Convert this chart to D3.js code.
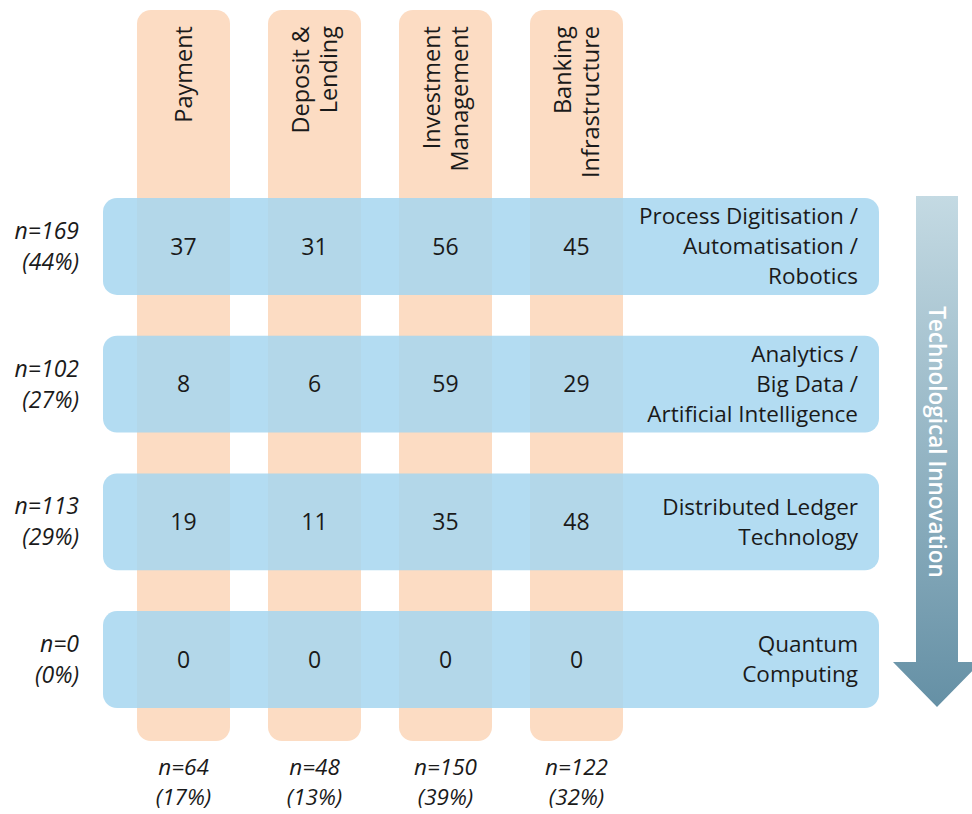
<!DOCTYPE html>
<html>
<head>
<meta charset="utf-8">
<script src="https://cdn.jsdelivr.net/npm/d3@7"></script>
<style>
  body { margin: 0; background: #fff; }
  svg text { font-family: "Open Sans", sans-serif; fill: #1a1a1a; }
</style>
</head>
<body>
<svg width="972" height="814"></svg>
<script>
var svg = d3.select('svg');

// data
var sectors = [['Payment'], ['Deposit &', 'Lending'], ['Investment', 'Management'], ['Banking', 'Infrastructure']];
var sectorKeys = ['Payment', 'Deposit & Lending', 'Investment Management', 'Banking Infrastructure'];
var techs = [['Process Digitisation /', 'Automatisation /', 'Robotics'],
             ['Analytics /', 'Big Data /', 'Artificial Intelligence'],
             ['Distributed Ledger', 'Technology'],
             ['Quantum', 'Computing']];
var techKeys = ['Process', 'Analytics', 'DLT', 'Quantum'];
var counts = [[37, 31, 56, 45],
              [8, 6, 59, 29],
              [19, 11, 35, 48],
              [0, 0, 0, 0]];
var rowTotals = [['n=169', '(44%)'], ['n=102', '(27%)'], ['n=113', '(29%)'], ['n=0', '(0%)']];
var colTotals = [['n=64', '(17%)'], ['n=48', '(13%)'], ['n=150', '(39%)'], ['n=122', '(32%)']];

var x = d3.scaleBand().domain(sectorKeys).range([137, 623]).paddingInner(0.29).paddingOuter(0);
var y = d3.scaleBand().domain(techKeys).range([198, 708]).paddingInner(0.296).paddingOuter(0);

// columns
svg.selectAll('rect.col')
    .data(sectorKeys)
    .enter()
    .append('rect')
    .attr('class', 'col')
    .attr('x', function(d){ return x(d); })
    .attr('y', 10)
    .attr('width', x.bandwidth())
    .attr('height', 731)
    .attr('rx', 14)
    .attr('fill', '#fcdcc3');

// rows
svg.selectAll('rect.row')
    .data(techKeys)
    .enter()
    .append('rect')
    .attr('class', 'row')
    .attr('x', 103)
    .attr('y', function(d){ return y(d); })
    .attr('width', 776)
    .attr('height', y.bandwidth())
    .attr('rx', 14)
    .attr('fill', '#a6d6f0')
    .attr('opacity', 0.85);

// column headers (rotated)
sectors.forEach(function(lines, i){
    var cx = x(sectorKeys[i]) + x.bandwidth() / 2;
    var g = svg.append('g').attr('transform', 'translate(' + cx + ',26) rotate(-90)');
    lines.forEach(function(t, j){
        g.append('text')
            .attr('x', 0)
            .attr('y', (j - (lines.length - 1) / 2) * 28)
            .attr('dy', '0.35em')
            .attr('text-anchor', 'end')
            .attr('font-size', 23.5)
            .text(t);
    });
});

// row labels
techs.forEach(function(lines, i){
    var cy = y(techKeys[i]) + y.bandwidth() / 2;
    lines.forEach(function(t, j){
        svg.append('text')
            .attr('x', 858)
            .attr('y', cy + (j - (lines.length - 1) / 2) * 30)
            .attr('dy', '0.35em')
            .attr('text-anchor', 'end')
            .attr('font-size', 22.5)
            .text(t);
    });
});

// cell values
counts.forEach(function(row, i){
    svg.selectAll(null)
        .data(row)
        .enter()
        .append('text')
        .attr('x', function(d, j){ return x(sectorKeys[j]) + x.bandwidth() / 2; })
        .attr('y', y(techKeys[i]) + y.bandwidth() / 2)
        .attr('dy', '0.36em')
        .attr('text-anchor', 'middle')
        .attr('font-size', 23)
        .text(function(d){ return d; });
});

// row totals
rowTotals.forEach(function(lines, i){
    var cy = y(techKeys[i]) + y.bandwidth() / 2;
    lines.forEach(function(t, j){
        svg.append('text')
            .attr('x', 79)
            .attr('y', cy + (j - 0.5) * 31)
            .attr('dy', '0.35em')
            .attr('text-anchor', 'end')
            .attr('font-size', 23)
            .attr('font-style', 'italic')
            .text(t);
    });
});

// column totals
colTotals.forEach(function(lines, i){
    var cx = x(sectorKeys[i]) + x.bandwidth() / 2;
    lines.forEach(function(t, j){
        svg.append('text')
            .attr('x', cx)
            .attr('y', 767 + j * 30)
            .attr('dy', '0.35em')
            .attr('text-anchor', 'middle')
            .attr('font-size', 22.5)
            .attr('font-style', 'italic')
            .text(t);
    });
});

// arrow
var grad = svg.append('defs').append('linearGradient')
    .attr('id', 'arrowGrad')
    .attr('x1', 0).attr('y1', 0).attr('x2', 0).attr('y2', 1);
grad.append('stop').attr('offset', '0%').attr('stop-color', '#c4dae3');
grad.append('stop').attr('offset', '100%').attr('stop-color', '#6590a5');

var ax = 937;
svg.append('path')
    .attr('d', 'M' + (ax - 21) + ',196 L' + (ax + 21) + ',196 L' + (ax + 21) + ',662 L' + (ax + 44) + ',662 L' + ax + ',707 L' + (ax - 44) + ',662 L' + (ax - 21) + ',662 Z')
    .attr('fill', 'url(#arrowGrad)');

svg.append('text')
    .attr('transform', 'translate(' + ax + ',442) rotate(90)')
    .attr('text-anchor', 'middle')
    .attr('dy', '0.35em')
    .attr('font-size', 22.5)
    .attr('font-weight', 600)
    .style('fill', '#fff')
    .text('Technological Innovation');
</script>
</body>
</html>
